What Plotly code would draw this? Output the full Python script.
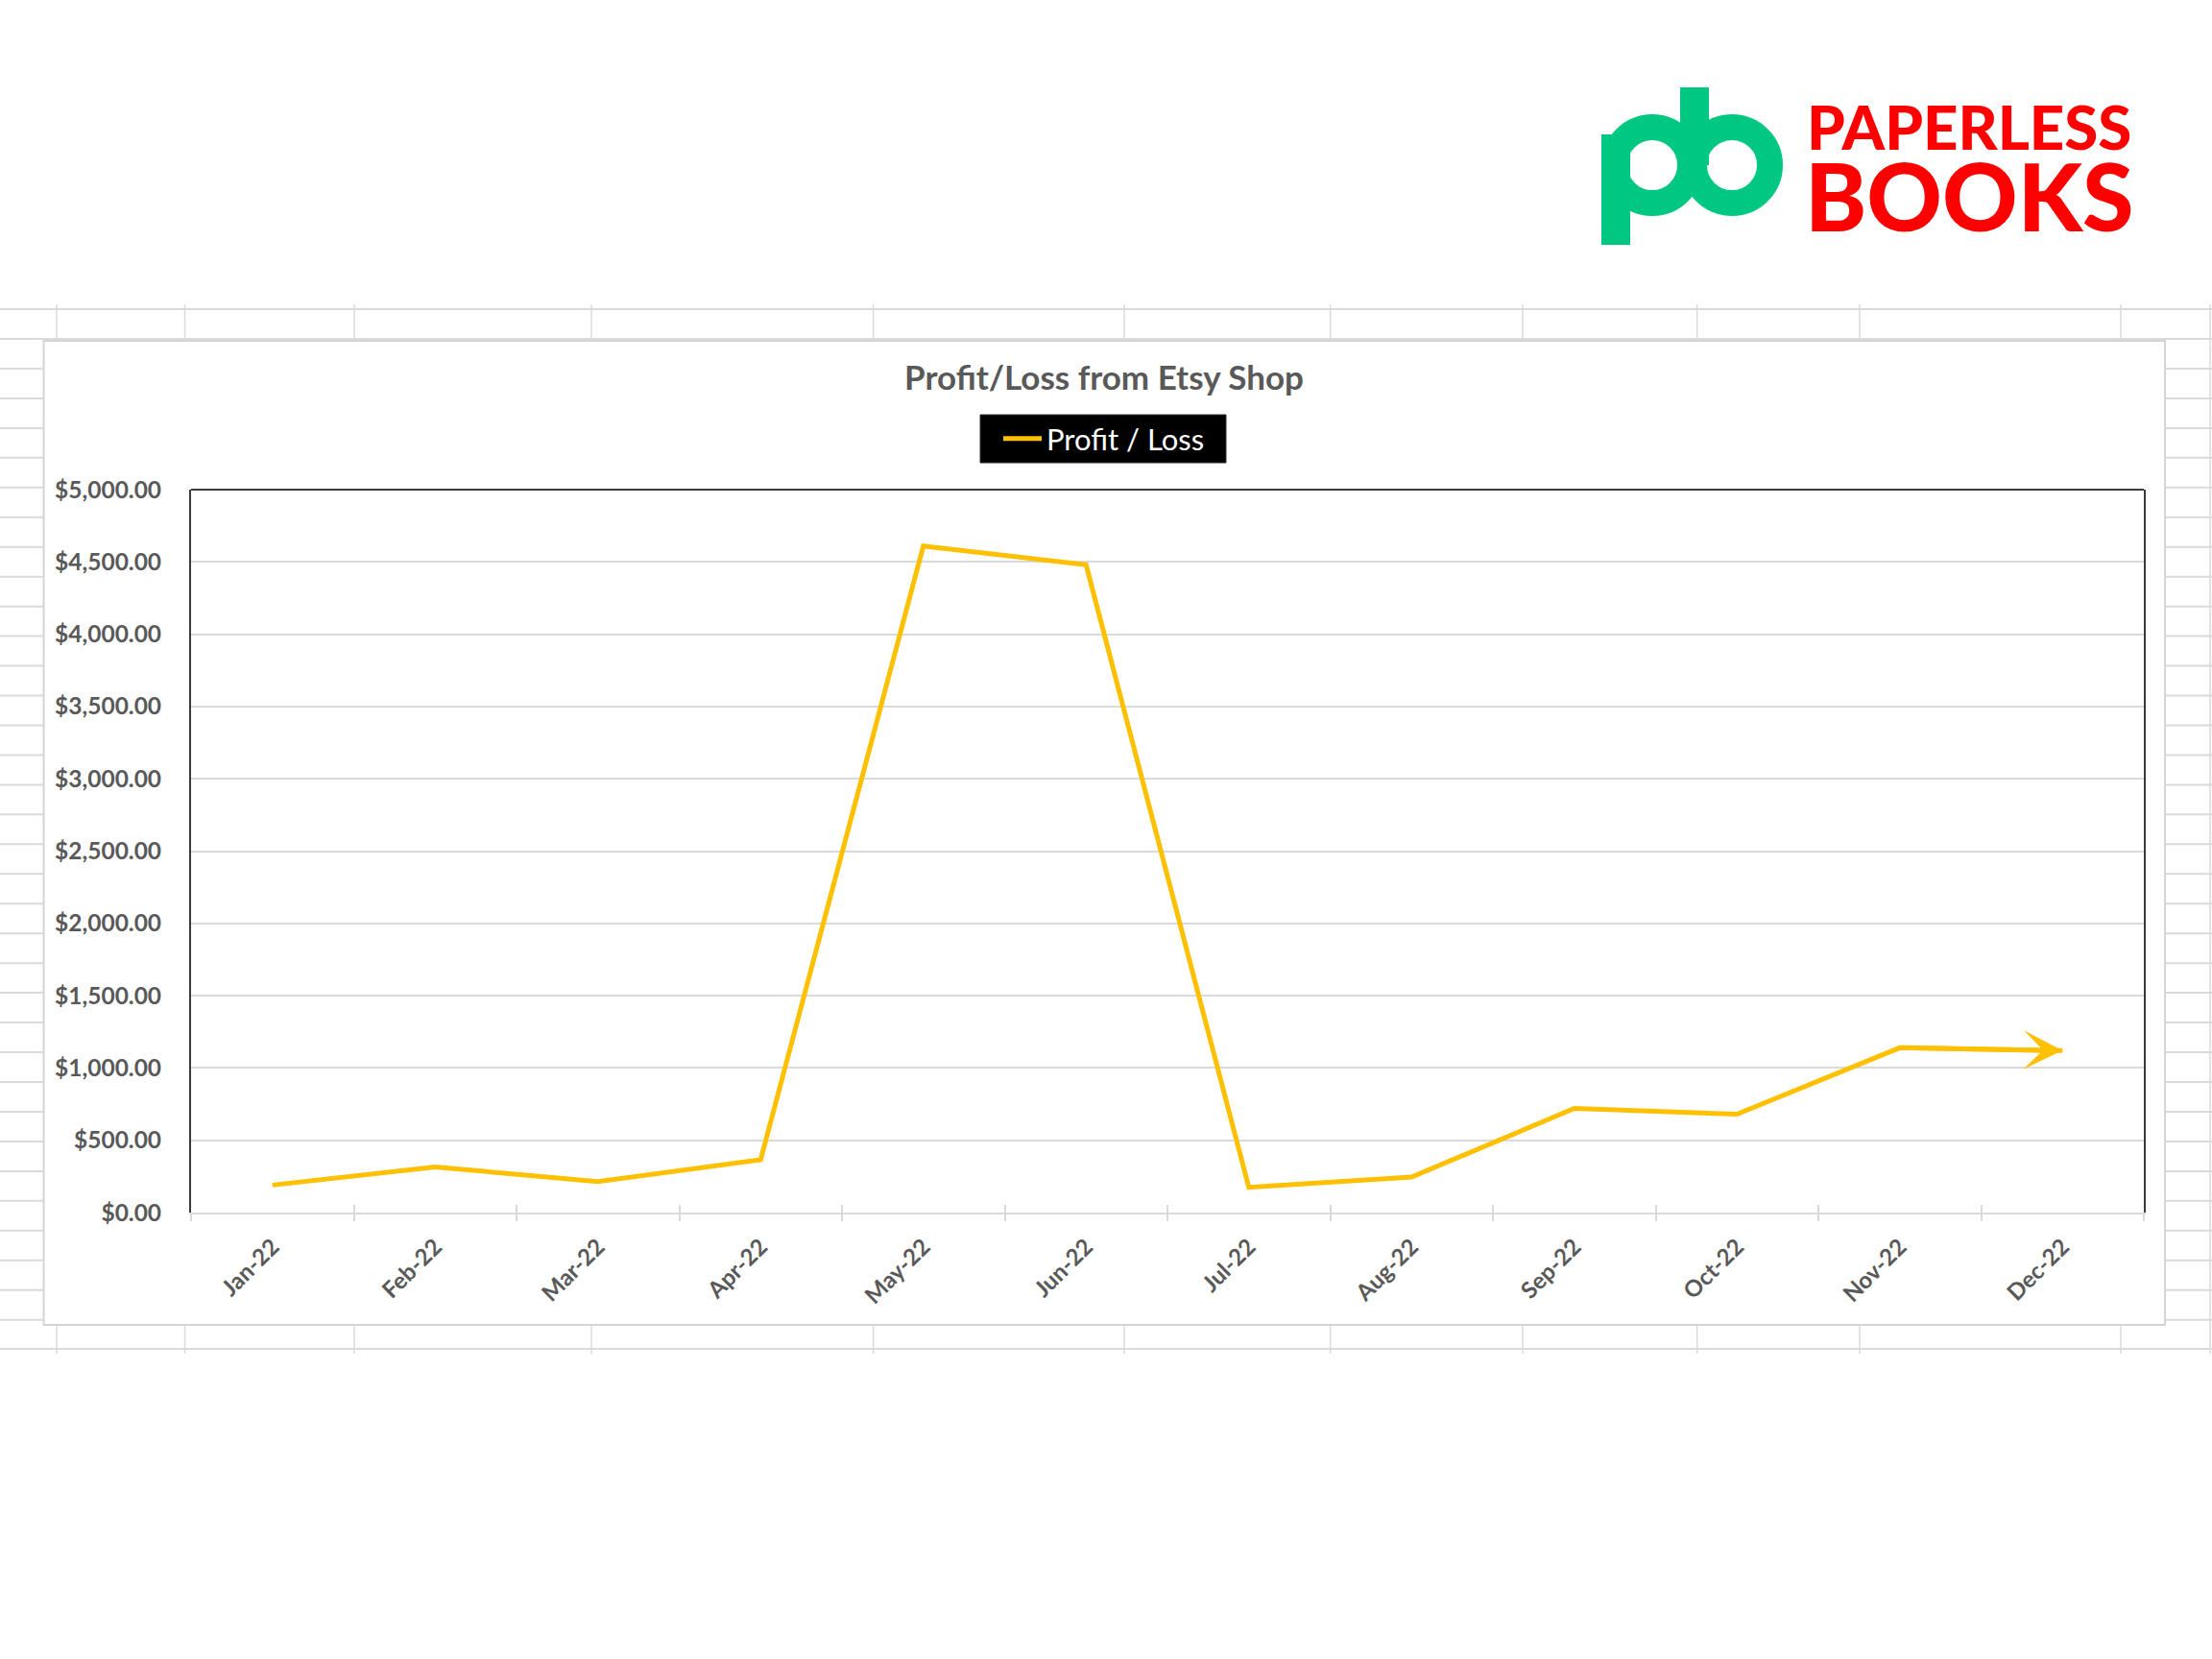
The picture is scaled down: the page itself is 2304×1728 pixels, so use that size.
import plotly.graph_objects as go

# ---------------- data ----------------
months = ["Jan-22", "Feb-22", "Mar-22", "Apr-22", "May-22", "Jun-22",
          "Jul-22", "Aug-22", "Sep-22", "Oct-22", "Nov-22", "Dec-22"]
profit = [190, 315, 215, 365, 4610, 4480, 175, 245, 720, 680, 1140, 1120]
series_name = "Profit / Loss"
chart_title = "Profit/Loss from Etsy Shop"
y_min, y_max, y_step = 0, 5000, 500

# ---------------- geometry helpers (page pixels -> paper) ----------------
W, H = 2304, 1728


def fx(x):
    return x / W


def fy(y):
    return 1 - y / H


GRID = "#dadada"
LABEL = "#595959"
GOLD = "#FFC000"

fig = go.Figure()

fig.add_trace(go.Scatter(
    x=months, y=profit, mode="lines", name=series_name,
    line=dict(color=GOLD, width=5), xaxis="x", yaxis="y",
    hoverinfo="x+y",
))
# invisible copy on an overlay axis, only to draw the inner half of the category ticks
fig.add_trace(go.Scatter(
    x=months, y=profit, mode="lines", showlegend=False, hoverinfo="skip",
    line=dict(color="rgba(0,0,0,0)", width=0), xaxis="x2", yaxis="y",
))

shapes = []

# ---------------- spreadsheet background ----------------
cols = [59, 192.5, 369, 616, 909.6, 1171, 1385.6, 1586, 1767.7, 1937, 2209]
# header band
for yy in (322, 353):
    shapes.append(dict(type="line", xref="paper", yref="paper", x0=0, x1=1,
                       y0=fy(yy), y1=fy(yy), line=dict(color=GRID, width=2), layer="below"))
for cx in cols:
    shapes.append(dict(type="line", xref="paper", yref="paper", x0=fx(cx), x1=fx(cx),
                       y0=fy(317), y1=fy(353), line=dict(color=GRID, width=1.5), layer="below"))
    shapes.append(dict(type="line", xref="paper", yref="paper", x0=fx(cx), x1=fx(cx),
                       y0=fy(1380), y1=fy(1410), line=dict(color=GRID, width=1.5), layer="below"))
shapes.append(dict(type="line", xref="paper", yref="paper", x0=fx(2302), x1=fx(2302),
                   y0=fy(317), y1=fy(1410), line=dict(color=GRID, width=1.5), layer="below"))
# row lines at the left / right of the chart object
for k in range(1, 34):
    yy = 353 + 30.96 * k
    shapes.append(dict(type="line", xref="paper", yref="paper", x0=0, x1=fx(46),
                       y0=fy(yy), y1=fy(yy), line=dict(color=GRID, width=2), layer="below"))
    shapes.append(dict(type="line", xref="paper", yref="paper", x0=fx(2255), x1=1,
                       y0=fy(yy), y1=fy(yy), line=dict(color=GRID, width=2), layer="below"))
# bottom border row
shapes.append(dict(type="line", xref="paper", yref="paper", x0=0, x1=1,
                   y0=fy(1405), y1=fy(1405), line=dict(color=GRID, width=2), layer="below"))
# chart object frame
shapes.append(dict(type="rect", xref="paper", yref="paper", x0=fx(45.5), x1=fx(2255),
                   y0=fy(1380), y1=fy(355), fillcolor="white",
                   line=dict(color="#d4d4d4", width=2), layer="below"))

# top border of the plot area
shapes.append(dict(type="line", xref="x domain", yref="y domain", x0=0, x1=1, y0=1, y1=1,
                   line=dict(color="#3a3a3a", width=2), layer="above"))

# black legend panel
shapes.append(dict(type="rect", xref="paper", yref="paper", x0=fx(1021), x1=fx(1277),
                   y0=fy(482), y1=fy(432), fillcolor="black",
                   line=dict(color="#303030", width=1), layer="above"))

# ---------------- logo ----------------
GREEN = "#00C882"
# p stem
shapes.append(dict(type="rect", xref="paper", yref="paper", x0=fx(1668), x1=fx(1698),
                   y0=fy(255), y1=fy(140), fillcolor=GREEN, line=dict(width=0), layer="above"))
# b stem
shapes.append(dict(type="rect", xref="paper", yref="paper", x0=fx(1750), x1=fx(1780),
                   y0=fy(172), y1=fy(91), fillcolor=GREEN, line=dict(width=0), layer="above"))
# bowls (rings)
for cx in (1721, 1804):
    r = 39.5
    shapes.append(dict(type="circle", xref="paper", yref="paper",
                       x0=fx(cx - r), x1=fx(cx + r), y0=fy(172 + r), y1=fy(172 - r),
                       line=dict(color=GREEN, width=27), layer="above"))

annotations = [
    dict(text="PAPERLESS", xref="paper", yref="paper", x=fx(1880), y=fy(131),
         xanchor="left", yanchor="middle", showarrow=False,
         font=dict(family="Lato", size=63.5, color="#FF0000", weight=900)),
    dict(text="BOOKS", xref="paper", yref="paper", x=fx(1878), y=fy(203),
         xanchor="left", yanchor="middle", showarrow=False,
         font=dict(family="Lato", size=97, color="#FF0000", weight=900)),
    # arrow head at the end of the series
    dict(x=months[-1], y=profit[-1], ax=months[-2], ay=profit[-2],
         xref="x", yref="y", axref="x", ayref="y", text="", showarrow=True,
         arrowhead=3, arrowsize=1.35, arrowwidth=5, arrowcolor=GOLD, standoff=0),
]

fig.update_layout(
    width=W, height=H, autosize=False,
    margin=dict(l=0, r=0, t=0, b=0),
    paper_bgcolor="white", plot_bgcolor="white",
    title=dict(text=chart_title, x=fx(1150), y=fy(394), xanchor="center", yanchor="middle",
               xref="paper", yref="paper",
               font=dict(family="Lato", size=35, color=LABEL, weight="bold")),
    showlegend=True,
    legend=dict(x=fx(1150), y=fy(457), xanchor="center", yanchor="middle",
                orientation="h", bgcolor="rgba(0,0,0,0)", borderwidth=0,
                font=dict(family="Lato", size=31, color="white"),
                itemwidth=40),
    xaxis=dict(domain=[fx(199), fx(2233)], type="category", range=[-0.5, len(months) - 0.5],
               tickson="boundaries", ticks="outside", ticklen=7, tickwidth=2, tickcolor=GRID,
               showline=True, linecolor=GRID, linewidth=2, showgrid=False, zeroline=False,
               tickangle=-45, automargin=False, anchor="y", ticklabelstandoff=10,
               tickfont=dict(family="Lato", size=24, color=LABEL, weight="bold")),
    xaxis2=dict(domain=[fx(199), fx(2233)], type="category", range=[-0.5, len(months) - 0.5],
                overlaying="x", anchor="y", side="bottom",
                tickson="boundaries", ticks="inside", ticklen=8, tickwidth=2, tickcolor=GRID,
                showticklabels=False, showline=False, showgrid=False, zeroline=False,
                automargin=False),
    yaxis=dict(domain=[fy(1263), fy(510)], range=[y_min, y_max], tick0=y_min, dtick=y_step,
               tickformat="$,.2f", showgrid=True, gridcolor=GRID, gridwidth=2,
               showline=True, linecolor="#3a3a3a", linewidth=2, mirror=True,
               ticks="", ticklabelstandoff=24, zeroline=False, automargin=False,
               tickfont=dict(family="Lato", size=24.5, color=LABEL, weight="bold")),
    shapes=shapes,
    annotations=annotations,
)

fig.write_html("out.html")
